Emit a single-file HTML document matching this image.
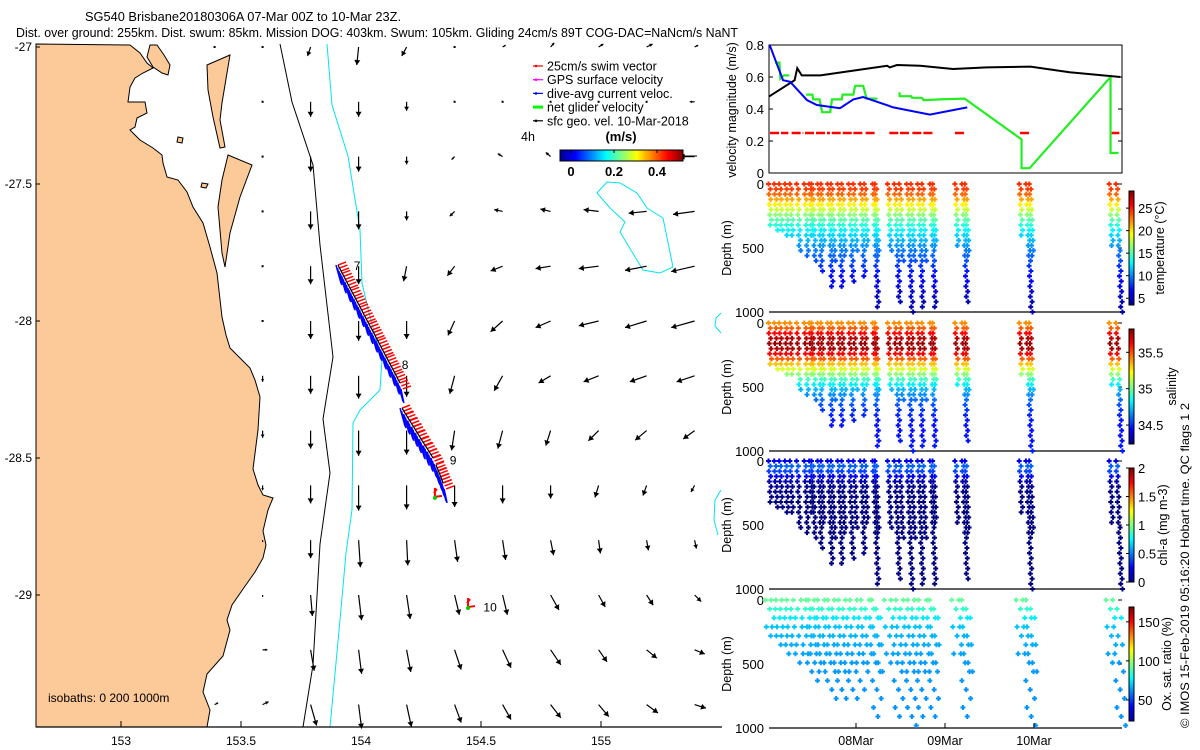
<!DOCTYPE html>
<html><head><meta charset="utf-8"><style>
body{margin:0;background:#fff;}
svg{display:block;font-family:"Liberation Sans",Arial,sans-serif;}
</style></head><body>
<svg id="fig" width="1200" height="750" viewBox="0 0 1200 750" xmlns="http://www.w3.org/2000/svg">
<defs>
<linearGradient id="jetV" x1="0" y1="1" x2="0" y2="0">
<stop offset="0" stop-color="#00008f"/><stop offset="0.125" stop-color="#0000ff"/><stop offset="0.375" stop-color="#00ffff"/><stop offset="0.625" stop-color="#ffff00"/><stop offset="0.875" stop-color="#ff0000"/><stop offset="1" stop-color="#800000"/></linearGradient>
<linearGradient id="jetH" x1="0" y1="0" x2="1" y2="0">
<stop offset="0" stop-color="#00008f"/><stop offset="0.125" stop-color="#0000ff"/><stop offset="0.375" stop-color="#00ffff"/><stop offset="0.625" stop-color="#ffff00"/><stop offset="0.875" stop-color="#ff0000"/><stop offset="1" stop-color="#800000"/></linearGradient>
</defs>
<g font-size="12.5" fill="#000">
<text x="85" y="21" textLength="316" lengthAdjust="spacingAndGlyphs">SG540 Brisbane20180306A 07-Mar 00Z to 10-Mar 23Z.</text>
<text x="16" y="37" textLength="722" lengthAdjust="spacingAndGlyphs">Dist. over ground: 255km. Dist. swum: 85km. Mission DOG: 403km. Swum: 105km. Gliding 24cm/s 89T COG-DAC=NaNcm/s NaNT</text>
</g>
<g id="map"></g>
<g id="vel"></g>
<g id="prof"></g>
<text x="0" y="0" transform="translate(1189,728) rotate(-90)" font-size="12" textLength="325" lengthAdjust="spacingAndGlyphs">© IMOS 15-Feb-2019 05:16:20 Hobart time. QC flags 1  2</text>
</svg>
<script>
// ---------- MAP DATA ----------
const gridLon = [153.39,153.59,153.79,153.99,154.19,154.39,154.59,154.79,154.99,155.19,155.39];
const gridLat = [-27.0,-27.2,-27.4,-27.6,-27.8,-28.0,-28.2,-28.4,-28.6,-28.8,-29.0,-29.2,-29.4];
const velU = [
 [0.02,0.0,-0.05,-0.03,-0.08,0.0,0.05,0.06,0.08,0.1,0.06],
 [null,0.0,0.0,0.0,0.0,0.0,0.0,0.0,0.0,0.0,-0.08],
 [null,0.0,0.0,0.0,0.0,-0.05,-0.08,-0.08,-0.2,-0.22,-0.25],
 [null,0.02,0.0,0.0,0.0,-0.08,-0.14,-0.17,-0.25,-0.3,-0.36],
 [null,0.0,0.0,0.0,-0.05,-0.12,-0.2,-0.25,-0.33,-0.36,-0.39],
 [null,0.0,0.0,0.0,0.0,-0.11,-0.2,-0.25,-0.33,-0.36,-0.39],
 [null,0.0,0.0,0.0,0.0,-0.08,-0.14,-0.2,-0.25,-0.28,-0.3],
 [null,0.0,0.0,0.0,0.0,-0.05,-0.08,-0.08,-0.17,-0.19,-0.19],
 [null,0.0,0.0,0.0,0.0,0.0,0.0,0.0,-0.06,-0.06,-0.06],
 [null,0.0,0.0,0.03,0.02,0.05,0.05,0.05,0.03,0.03,0.03],
 [null,0.0,0.03,0.05,0.06,0.08,0.08,0.14,0.11,0.11,0.11],
 [null,0.08,0.06,0.05,0.07,0.11,0.14,0.17,0.14,0.17,0.17],
 [0.06,0.1,0.1,0.05,0.08,0.11,0.14,0.17,0.17,0.19,0.19]];
const velV = [
 [0.0,-0.02,-0.15,-0.3,-0.15,0.0,0.03,0.07,0.05,0.05,0.03],
 [null,-0.02,-0.25,-0.25,-0.15,-0.02,0.0,0.0,0.0,0.0,0.0],
 [null,0.0,-0.25,-0.25,-0.13,-0.05,0.05,0.07,-0.02,-0.02,0.0],
 [null,0.0,-0.3,-0.3,-0.15,-0.08,0.03,0.04,0.03,-0.03,-0.05],
 [null,-0.02,-0.3,-0.3,-0.25,-0.16,-0.08,-0.04,-0.04,-0.07,-0.09],
 [null,0.0,-0.3,-0.33,-0.3,-0.24,-0.18,-0.11,-0.08,-0.11,-0.11],
 [null,-0.1,-0.3,-0.38,-0.35,-0.3,-0.25,-0.12,-0.1,-0.1,-0.1],
 [null,-0.12,-0.3,-0.42,-0.4,-0.33,-0.3,-0.25,-0.17,-0.16,-0.14],
 [null,-0.08,-0.3,-0.42,-0.4,-0.36,-0.3,-0.22,-0.2,-0.17,-0.11],
 [null,-0.03,-0.3,-0.45,-0.42,-0.36,-0.33,-0.25,-0.22,-0.17,-0.14],
 [null,-0.03,-0.35,-0.42,-0.4,-0.33,-0.33,-0.25,-0.2,-0.17,-0.11],
 [null,0.0,-0.35,-0.4,-0.37,-0.33,-0.3,-0.25,-0.2,-0.14,-0.07],
 [0.03,0.05,-0.35,-0.4,-0.37,-0.3,-0.25,-0.22,-0.2,-0.14,-0.06]];
const trackLon = [153.904,153.922,153.941,153.959,153.978,153.996,154.015,154.033,154.052,154.070,154.089,154.107,154.126,154.144,154.162,null,154.171,154.187,154.203,154.219,154.235,154.251,154.268,154.284,154.300,null,154.312,154.322,154.332,154.342];
const trackLat = [-27.796,-27.826,-27.858,-27.888,-27.919,-27.949,-27.981,-28.011,-28.042,-28.072,-28.104,-28.134,-28.165,-28.195,-28.226,null,-28.318,-28.341,-28.364,-28.386,-28.409,-28.432,-28.455,-28.477,-28.500,null,-28.525,-28.546,-28.568,-28.591];
const extraLon = [154.308,154.446];
const extraLat = [-28.642,-29.044];
const dayLabels = ["7","8","9","10"];
const dayLabelLon = [153.97,154.17,154.37,154.51];
const dayLabelLat = [-27.80,-28.16,-28.51,-29.045];
const lonTicks = [153,153.5,154,154.5,155];
const latTicks = [-27,-27.5,-28,-28.5,-29];
const legendLabels = ["25cm/s swim vector","GPS surface velocity","dive-avg current veloc.","net glider velocity","sfc geo. vel. 10-Mar-2018"];
const legendColors = ["#ff0000","#ff00ff","#0000ff","#00ff00","#000000"];
const speedTicks = [0,0.2,0.4];

// ---------- VELOCITY PANEL DATA ----------
const velTicks = [0,0.2,0.4,0.6,0.8];
const blackT = [0.02,0.31,0.34,0.39,0.60,0.97,1.35,1.38,1.46,1.72,2.09,2.47,2.96,3.40,3.97];
const blackV = [0.477,0.58,0.655,0.61,0.61,0.64,0.67,0.66,0.675,0.67,0.65,0.66,0.665,0.63,0.60];
const blueT = [0.03,0.18,0.26,0.45,0.56,0.82,0.97,1.08,1.42,1.83,2.25];
const blueV = [0.80,0.58,0.57,0.455,0.425,0.405,0.46,0.475,0.41,0.365,0.41];
const greenT = [0.09,0.14,0.15,0.19,0.25,null,0.44,0.51,0.52,0.59,0.62,0.71,0.73,0.84,0.85,0.97,0.99,1.08,1.12,1.24,null,1.49,1.49,1.62,1.63,1.74,1.76,1.94,2.22,2.86,2.86,2.95,3.86,3.86,3.95];
const greenV = [0.69,0.69,0.59,0.61,0.61,null,0.49,0.49,0.46,0.46,0.38,0.38,0.46,0.46,0.49,0.49,0.545,0.545,0.465,0.465,null,0.505,0.48,0.48,0.47,0.47,0.455,0.46,0.465,0.21,0.03,0.03,0.60,0.125,0.125];
const redStart = [0.034,0.277,0.427,0.727,0.970,1.108,1.374,1.494,1.633,1.757,2.112,2.843,3.873];
const redEnd = [0.240,0.408,0.708,0.952,1.09,1.232,1.476,1.607,1.738,1.869,2.236,2.963,3.959];
const redV = [0.25,0.25,0.25,0.25,0.25,0.25,0.25,0.25,0.25,0.25,0.25,0.25,0.25];

// ---------- PROFILE DATA ----------
const diveT = [0.026,0.090,0.146,0.210,0.266,0.341,0.427,0.483,0.509,0.577,0.614,0.689,0.727,0.802,0.847,0.925,0.978,1.056,1.101,1.195,1.221,1.363,1.438,1.494,1.577,1.625,1.700,1.749,1.839,1.869,2.120,2.199,2.232,2.843,2.918,2.955,3.854,3.929];
const diveMaxD = [320,360,380,400,420,520,560,430,600,690,500,810,600,800,560,780,520,740,500,960,560,520,940,620,1000,600,960,620,960,500,480,940,560,420,1000,560,500,1000];
const profDepth = [0,50,100,150,200,250,300,350,400,450,500,600,700,800,900,1000];
const tempProf = [24.5,24,22.5,20,18,16,14.5,13,12,11,10,8.5,7,6,5,4.5];
const salProf = [35.4,35.5,35.7,35.78,35.75,35.6,35.4,35.2,35.05,34.9,34.75,34.6,34.5,34.45,34.46,34.48];
const chlProf = [0.2,0.5,0.3,0.1,0.03,0.01,0,0,0,0,0,0,0,0,0,0];
const oxProf = [92,88,80,74,70,68,67,66,65,64,63,63,62,62,62,62];
const tempTicks = [5,10,15,20,25];
const salTicks = [34.5,35,35.5];
const chlTicks = [0,0.5,1,1.5,2];
const oxTicks = [50,100,150];
const dateTicks = [1,2,3];
const dateLabels = ["08Mar","09Mar","10Mar"];
const depthTicks = [0,500,1000];

// ---------- helpers ----------
const NS = "http://www.w3.org/2000/svg";
function mk(parent, tag, attrs){const e=document.createElementNS(NS,tag);for(const k in attrs)e.setAttribute(k,attrs[k]);parent.appendChild(e);return e;}
const lonX = l => 361 + (l-154)*240;
const latY = la => 321 - (la+28)*274;
function jet(v){v=Math.max(0,Math.min(1,v));const c=x=>Math.round(255*Math.max(0,Math.min(1,x)));
 return `rgb(${c(1.5-Math.abs(4*v-3))},${c(1.5-Math.abs(4*v-2))},${c(1.5-Math.abs(4*v-1))})`;}
function interp(d,arr){for(let i=1;i<profDepth.length;i++){if(d<=profDepth[i]){const f=(d-profDepth[i-1])/(profDepth[i]-profDepth[i-1]);return arr[i-1]+f*(arr[i]-arr[i-1]);}}return arr[arr.length-1];}

// ---------- MAP ----------
const map=document.getElementById('map');
let el;
el=mk(map,'path',{d:"M36,44 L130,45 L140,53 L147,63 L153,68 L143,73 L135,78 L130,87 L128,102 L145,102 L147,113 L137,118 L135,127 L130,130 L137,137 L140,140 L153,148 L162,155 L163,163 L167,177 L178,180 L187,192 L193,207 L203,223 L210,247 L217,273 L222,317 L226,335 L230,348 L240,358 L250,368 L255,380 L260,397 L258,430 L253,469 L258,485 L263,495 L273,498 L268,510 L263,531 L266,545 L263,558 L255,572 L243,589 L232,605 L227,620 L230,630 L223,656 L207,674 L203,692 L210,710 L207,727 L36,727 Z",fill:"#fcc998",stroke:"#000","stroke-width":1});

el=mk(map,'path',{d:"M157,45 L164,55 L170,65 L168,75 L162,73 L153,67 L147,57 L150,45 Z",fill:"#fcc998",stroke:"#000","stroke-width":1});

el=mk(map,'path',{d:"M207,65 L230,55 L222,103 L220,120 L225,147 L220,148 L213,117 L208,90 Z",fill:"#fcc998",stroke:"#000","stroke-width":1});

el=mk(map,'path',{d:"M228,155 L252,165 L240,197 L230,233 L225,267 L222,253 L218,207 L222,180 Z",fill:"#fcc998",stroke:"#000","stroke-width":1});

el=mk(map,'path',{d:"M178,137 L183,138 L182,143 L177,142 Z M202,183 L208,184 L206,188 L201,187 Z",fill:"#fcc998",stroke:"#000","stroke-width":1});

el=mk(map,'path',{d:"M280,44 L292,102 L313,165 L320,245 L333,357 L323,419 L330,473 L320,544 L313,665 L303,727",fill:"none",stroke:"#000","stroke-width":1});

el=mk(map,'path',{d:"M327,44 L332,105 L348,156 L360,230 L362,283 L370,317 L382,360 L380,390 L360,410 L353,423 L352,510 L346,553 L340,620 L330,727",fill:"none",stroke:"#00e5ee","stroke-width":1});

el=mk(map,'path',{d:"M597,193 L607,182 L620,183 L637,193 L647,208 L663,218 L673,267 L660,273 L643,270 L620,232 L625,222 L610,208 Z",fill:"none",stroke:"#00e5ee","stroke-width":1});

el=mk(map,'path',{d:"M721,313 L716,318 L715,326 L721,333 M721,490 L715,500 L714,520 L718,535",fill:"none",stroke:"#00e5ee","stroke-width":1});


const S=60;
for(let i=0;i<gridLat.length;i++){for(let j=0;j<gridLon.length;j++){
 const u=velU[i][j], v=velV[i][j]; if(u===null||v===null) continue;
 const x0=lonX(gridLon[j]), y0=latY(gridLat[i]);
 const dx=u*S, dy=-v*S, L=Math.hypot(dx,dy);
 const g=mk(map,'g',{});
 
 
 if(L<1.5){mk(g,'rect',{x:x0-1,y:y0-1,width:2,height:2,fill:"#000"});continue;}
 const x1=x0+dx,y1=y0+dy, ux=dx/L, uy=dy/L, h=Math.min(5,L*0.45);
 mk(g,'line',{x1:x0,y1:y0,x2:x1,y2:y1,stroke:"#000","stroke-width":1.2});
 mk(g,'path',{d:`M${x1},${y1} L${x1-ux*h-uy*h*0.6},${y1-uy*h+ux*h*0.6} L${x1-ux*h+uy*h*0.6},${y1-uy*h-ux*h*0.6} Z`,fill:"#000"});
}}

for(let k=0;k<trackLon.length;k++){ if(trackLon[k]===null) continue;
 const x=lonX(trackLon[k]), y=latY(trackLat[k]);
 for(let m=0;m<3;m++){
  const bx=x-2+m*1.5, by=y+m*3;
  const b=mk(map,'line',{x1:bx,y1:by,x2:bx+5-m,y2:by+18-m*2,stroke:"#0000ff","stroke-width":1.5});
  
  
  const r=mk(map,'line',{x1:x+m*1.5,y1:y+m*3,x2:x+m*1.5+8,y2:y+m*3-3,stroke:"#ff0000","stroke-width":1.5});
  
  
 }
}
let seg=[];const segs=[];
for(let k=0;k<=trackLon.length;k++){ if(k===trackLon.length||trackLon[k]===null){if(seg.length)segs.push(seg);seg=[];}else seg.push(lonX(trackLon[k])+','+latY(trackLat[k]));}
segs.forEach(s=>{const p=mk(map,'polyline',{points:s.join(' '),fill:"none",stroke:"#000","stroke-width":1.2});
 
 });
for(let k=0;k<extraLon.length;k++){const x=lonX(extraLon[k]),y=latY(extraLat[k]);
 const r=mk(map,'path',{d:`M${x},${y} l0,-9 M${x},${y} l7,-1 M${x-1},${y-4} l3,-4`,stroke:"#ff0000","stroke-width":2,fill:"none"});
 
 
 const gdot=mk(map,'circle',{cx:x,cy:y+1,r:2,fill:"#00cc00"});
 
 }
for(let k=0;k<dayLabels.length;k++){const t=mk(map,'text',{x:lonX(dayLabelLon[k]),y:latY(dayLabelLat[k])+4,"font-size":12});
 t.textContent=dayLabels[k];
 
 }

el=mk(map,'line',{x1:36,y1:727,x2:722,y2:727,stroke:"#000","stroke-width":1.2});

lonTicks.forEach(l=>{const x=lonX(l);
 const tk=mk(map,'line',{x1:x,y1:727,x2:x,y2:721,stroke:"#000"});
 
 
 const t=mk(map,'text',{x:x,y:745,"font-size":12,"text-anchor":"middle"});t.textContent=String(l);
 
 });
latTicks.forEach(l=>{const y=latY(l);
 const tk=mk(map,'line',{x1:36,y1:y,x2:40,y2:y,stroke:"#000"});
 
 
 const t=mk(map,'text',{x:32,y:y+4,"font-size":12,"text-anchor":"end"});t.textContent=String(l);
 
 });
el=mk(map,'text',{x:48,y:702,"font-size":12});el.textContent="isobaths: 0   200  1000m";el.setAttribute('xml:space','preserve');


legendLabels.forEach((lab,i)=>{const y=66+i*13.7;
 const ln=mk(map,'line',{x1:533,y1:y,x2:543,y2:y,stroke:legendColors[i],"stroke-width":i===3?3:1.2});
 
 
 mk(map,'circle',{cx:536,cy:y,r:1.3,fill:legendColors[i]});
 const t=mk(map,'text',{x:547,y:y+4.5,"font-size":12.5});t.textContent=lab;
 
 });
el=mk(map,'text',{x:521,y:141,"font-size":12.5});el.textContent="4h";

el=mk(map,'text',{x:621,y:141,"font-size":13,"font-weight":"bold","text-anchor":"middle"});el.textContent="(m/s)";

el=mk(map,'rect',{x:560,y:150,width:123,height:11,fill:"url(#jetH)",stroke:"#000","stroke-width":1});

el=mk(map,'line',{x1:683,y1:156,x2:697,y2:156,stroke:"#000","stroke-width":1});

const spX=v=>571+v*215;
speedTicks.forEach(v=>{const x=spX(v);mk(map,'line',{x1:x,y1:150,x2:x,y2:153,stroke:"#000"});
 const t=mk(map,'text',{x:x,y:176,"font-size":13,"font-weight":"bold","text-anchor":"middle"});t.textContent=String(v);
 
 });

// ---------- VELOCITY PANEL ----------
const vel=document.getElementById('vel');
const tX=t=>767+89*t;
const vY=v=>173-v*160;
el=mk(vel,'rect',{x:769,y:45,width:353,height:128,fill:"none",stroke:"#000","stroke-width":1});

velTicks.forEach(v=>{const y=vY(v);
 mk(vel,'line',{x1:769,y1:y,x2:773,y2:y,stroke:"#000"});mk(vel,'line',{x1:1118,y1:y,x2:1122,y2:y,stroke:"#000"});
 const t=mk(vel,'text',{x:764,y:y+5,"font-size":13,"text-anchor":"end"});t.textContent=String(v);
 
 });
el=mk(vel,'text',{x:0,y:0,transform:"translate(736,110) rotate(-90)","font-size":12.5,"text-anchor":"middle"});el.textContent="velocity magnitude (m/s)";

function lineFrom(T,V,color,w,name){let pts=[];const out=[];
 for(let i=0;i<=T.length;i++){if(i===T.length||T[i]===null){if(pts.length)out.push(pts);pts=[];}else pts.push(tX(T[i])+','+vY(V[i]));}
 out.forEach(p=>{const pl=mk(vel,'polyline',{points:p.join(' '),fill:"none",stroke:color,"stroke-width":w});
  
  });}
lineFrom(greenT,greenV,"#22ee22",2.2,'net-glider-velocity-line');
lineFrom(blackT,blackV,"#000",2,'surface-geo-velocity-line');
lineFrom(blueT,blueV,"#0000ff",2,'dive-avg-current-line');
for(let i=0;i<redStart.length;i++){const r=mk(vel,'line',{x1:tX(redStart[i]),y1:vY(redV[i]),x2:tX(redEnd[i]),y2:vY(redV[i]),stroke:"#ff0000","stroke-width":2.5,"stroke-dasharray":"9,2"});
 
 }

// ---------- PROFILE PANELS ----------
const prof=document.getElementById('prof');
const panels=[
 {top:184,cb:[191,305],vmin:3.5,vmax:28.8,arr:tempProf,ticks:tempTicks,title:"temperature (°C)",tx:1160,name:'temperature',step:40},
 {top:323,cb:[329,444],vmin:34.24,vmax:35.82,arr:salProf,ticks:salTicks,title:"salinity",tx:1172,name:'salinity',step:40},
 {top:461,cb:[468,582],vmin:0,vmax:2,arr:chlProf,ticks:chlTicks,title:"chl-a (mg m-3)",tx:1163,name:'chlorophyll',step:40},
 {top:600,cb:[607,721],vmin:23,vmax:169,arr:oxProf,ticks:oxTicks,title:"Ox. sat. ratio (%)",tx:1167,name:'oxygen',step:70}];
panels.forEach((P,pi)=>{
 const bot=P.top+128, dY=d=>P.top+d/1000*128;
 const ax=mk(prof,'line',{x1:769,y1:bot,x2:1122,y2:bot,stroke:"#000","stroke-width":1.2});
 
 
 depthTicks.forEach(d=>{const t=mk(prof,'text',{x:764,y:dY(d)+5,"font-size":13,"text-anchor":"end"});t.textContent=String(d);
  
  
  mk(prof,'line',{x1:1118,y1:dY(d),x2:1122,y2:dY(d),stroke:"#000"});});
 const yl=mk(prof,'text',{x:0,y:0,transform:`translate(731,${P.top+64}) rotate(-90)`,"font-size":12.5,"text-anchor":"middle"});yl.textContent="Depth (m)";
 
 
 for(let k=0;k<diveT.length;k++){
  let n=0;
  for(let d=0;d<=diveMaxD[k];d+=P.step,n++){
   const jitter = pi===3 ? ((n%3)-1)*4 : ((n%2)?0.8:-0.8);
   const x=tX(diveT[k])+d/1000*5+jitter, y=dY(d);
   const val=interp(d,P.arr);
   const c=jet((val-P.vmin)/(P.vmax-P.vmin));
   const m=mk(prof,'path',{d:`M${x-2.5},${y}h5M${x},${y-2.5}v5`,stroke:c,"stroke-width":2});
   
   
  }
 }
 const cbar=mk(prof,'rect',{x:1129,y:P.cb[0],width:5,height:P.cb[1]-P.cb[0],fill:"url(#jetV)",stroke:"#000","stroke-width":1});
 
 
 const cY=v=>P.cb[1]-(v-P.vmin)/(P.vmax-P.vmin)*(P.cb[1]-P.cb[0]);
 P.ticks.forEach(v=>{const y=cY(v);mk(prof,'line',{x1:1126,y1:y,x2:1129,y2:y,stroke:"#000"});
  const t=mk(prof,'text',{x:1138,y:y+5,"font-size":13});t.textContent=String(v);
  
  });
 const ct=mk(prof,'text',{x:0,y:0,transform:`translate(${P.tx+4},${(P.cb[0]+P.cb[1])/2}) rotate(-90)`,"font-size":12.5,"text-anchor":"middle"});ct.textContent=P.title;
 
 
});
dateTicks.forEach((t,i)=>{const x=tX(t);
 mk(prof,'line',{x1:x,y1:728,x2:x,y2:723,stroke:"#000"});
 const tx=mk(prof,'text',{x:x,y:745,"font-size":12.5,"text-anchor":"middle"});tx.textContent=dateLabels[i];
 
 });
</script>
</body></html>
